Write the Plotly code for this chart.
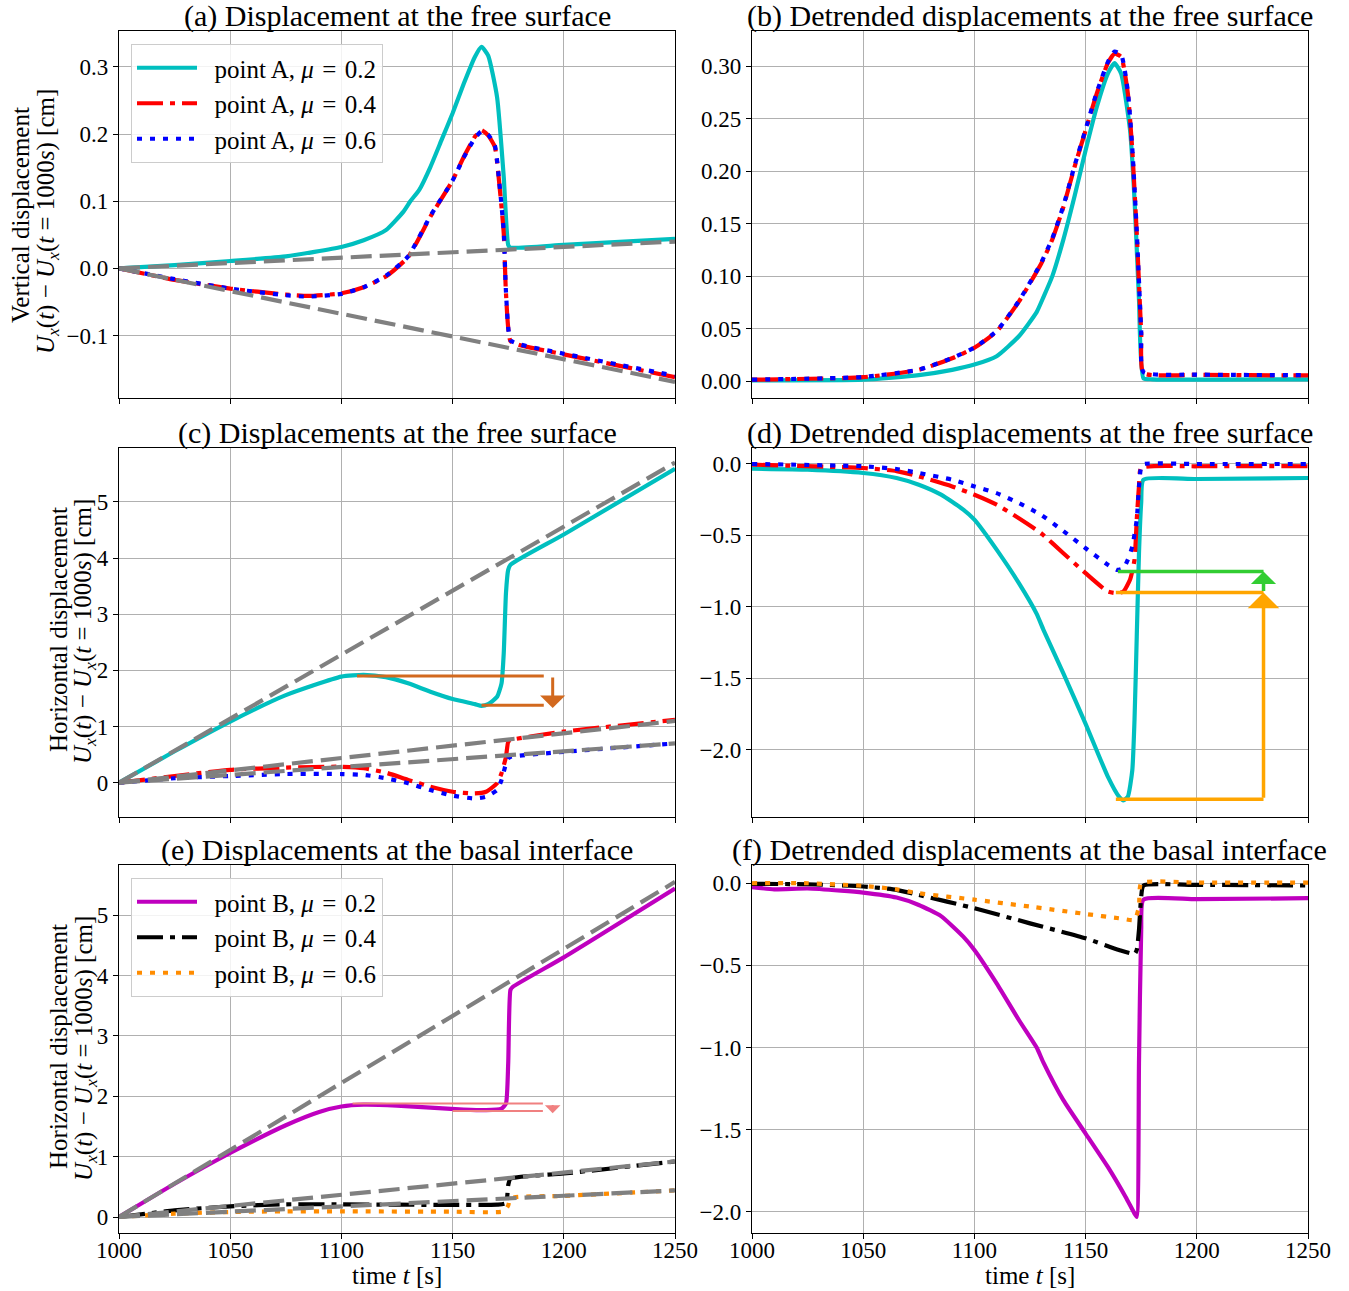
import plotly.graph_objects as go

# ---------------- data ----------------
# (a) vertical displacement, point A
tA_c = [1000,1025,1050,1075,1100,1110,1120,1128,1131,1135,1140,1145,1150,1155,1160,1163,1166,1170,1173,1175,1176,1200,1250]
a_mu02 = [0,0.005,0.011,0.018,0.032,0.042,0.057,0.085,0.100,0.117,0.151,0.191,0.231,0.275,0.315,0.330,0.317,0.255,0.136,0.035,0.031,0.035,0.044]
tA_rb = [1000,1025,1050,1075,1085,1100,1110,1120,1130,1140,1150,1155,1160,1163,1166,1169,1171,1173,1174,1176,1180,1200,1250]
a_mu04 = [0,-0.017,-0.030,-0.039,-0.041,-0.037,-0.028,-0.012,0.017,0.077,0.131,0.166,0.196,0.206,0.198,0.181,0.126,0.052,-0.037,-0.108,-0.114,-0.128,-0.162]
a_mu06 = [0,-0.016,-0.030,-0.040,-0.042,-0.038,-0.028,-0.011,0.018,0.078,0.131,0.165,0.194,0.204,0.199,0.183,0.128,0.055,-0.035,-0.107,-0.113,-0.127,-0.160]
a_trend_t = [1000,1250]
a_trend_02 = [0,0.040]
a_trend_46 = [0,-0.169]

# (b) detrended vertical, point A
tB_c = [1000,1050,1075,1090,1100,1110,1120,1128,1131,1135,1140,1145,1150,1155,1160,1163,1166,1170,1172,1174,1176,1180,1250]
b_mu02 = [0.001,0.0016,0.006,0.011,0.016,0.024,0.043,0.066,0.080,0.100,0.135,0.176,0.220,0.261,0.293,0.303,0.293,0.239,0.173,0.078,0.003,0.002,0.002]
tB_rb = [1000,1050,1075,1090,1100,1110,1120,1130,1135,1140,1145,1150,1155,1160,1163,1166,1169,1171,1173,1175,1176,1200,1250]
b_mu04 = [0.0016,0.004,0.011,0.022,0.032,0.0475,0.076,0.112,0.135,0.166,0.204,0.239,0.274,0.303,0.312,0.309,0.274,0.220,0.141,0.046,0.008,0.0063,0.0057]
b_mu06 = [0.0017,0.0042,0.0112,0.0222,0.0322,0.048,0.0765,0.113,0.136,0.167,0.205,0.240,0.275,0.304,0.314,0.311,0.276,0.222,0.143,0.048,0.009,0.0065,0.006]

# (c) horizontal displacement, point A
tC_c = [1000,1025,1050,1075,1100,1110,1120,1130,1140,1150,1160,1163,1166,1170,1172,1173,1174,1175,1176,1200,1250]
c_mu02 = [0,0.56,1.09,1.56,1.89,1.92,1.88,1.77,1.62,1.49,1.40,1.37,1.40,1.53,1.77,2.31,3.38,3.79,3.88,4.42,5.59]
tC_rb = [1000,1025,1050,1075,1100,1110,1120,1130,1140,1150,1160,1165,1170,1172,1174,1175,1176,1200,1250]
c_mu04 = [0,0.12,0.23,0.27,0.285,0.26,0.18,0.05,-0.07,-0.16,-0.19,-0.16,-0.01,0.17,0.46,0.73,0.76,0.91,1.12]
c_mu06 = [0,0.08,0.12,0.155,0.155,0.14,0.08,-0.01,-0.13,-0.23,-0.28,-0.25,-0.13,0.05,0.34,0.43,0.46,0.55,0.70]
c_trend_t = [1000,1250]
c_trend_02 = [0,5.70]
c_trend_04 = [0,1.10]
c_trend_06 = [0,0.70]
c_mark_hi_t = [1107,1191]
c_mark_hi_y = [1.90,1.90]
c_mark_lo_t = [1163,1191]
c_mark_lo_y = [1.38,1.38]
c_arrow = dict(t=1195, y_from=1.90, y_to=1.33)

# (d) detrended horizontal, point A
tD_c = [1000,1025,1050,1065,1075,1085,1095,1100,1110,1120,1128,1131,1140,1150,1160,1165,1167,1169,1171,1172,1173,1174,1175,1176,1200,1250]
d_mu02 = [-0.033,-0.04,-0.063,-0.098,-0.145,-0.215,-0.32,-0.39,-0.60,-0.835,-1.05,-1.16,-1.467,-1.82,-2.19,-2.33,-2.356,-2.33,-2.145,-1.79,-1.21,-0.625,-0.27,-0.11,-0.105,-0.098]
tD_r = [1000,1050,1065,1075,1090,1100,1110,1120,1130,1140,1150,1160,1164,1167,1170,1172,1173,1174,1175,1200,1250]
d_mu04 = [-0.005,-0.028,-0.05,-0.087,-0.157,-0.215,-0.285,-0.38,-0.485,-0.625,-0.765,-0.894,-0.905,-0.894,-0.81,-0.67,-0.39,-0.157,-0.028,-0.016,-0.016]
tD_b = [1000,1050,1065,1075,1090,1100,1110,1120,1130,1140,1150,1160,1164,1167,1169,1171,1173,1174,1175,1176,1200,1250]
d_mu06 = [0,-0.016,-0.035,-0.063,-0.11,-0.157,-0.204,-0.274,-0.356,-0.47,-0.59,-0.706,-0.742,-0.73,-0.67,-0.578,-0.39,-0.157,-0.016,0,0,0]
d_green_t = [1164.5,1230]
d_green_y = [-0.753,-0.753]
d_orange_mid_t = [1163.6,1230]
d_orange_mid_y = [-0.90,-0.90]
d_orange_low_t = [1163.6,1230]
d_orange_low_y = [-2.348,-2.348]
d_green_arrow = dict(t=1230, y_from=-0.90, y_to=-0.753)
d_orange_arrow = dict(t=1230, y_from=-2.348, y_to=-0.90)

# (e) horizontal displacement, point B
tE_m = [1000,1025,1050,1075,1090,1100,1110,1125,1140,1155,1165,1172,1174,1175,1176,1177,1200,1250]
e_mu02 = [0,0.55,1.06,1.52,1.74,1.83,1.86,1.845,1.81,1.78,1.77,1.795,1.88,2.54,3.76,3.81,4.30,5.44]
tE_k = [1000,1025,1050,1075,1100,1125,1150,1170,1174,1175,1176,1200,1250]
e_mu04 = [0,0.11,0.177,0.21,0.21,0.204,0.20,0.204,0.23,0.525,0.635,0.72,0.92]
tE_o = [1000,1025,1050,1075,1100,1150,1173,1175,1176,1200,1250]
e_mu06 = [0,0.055,0.083,0.094,0.094,0.088,0.094,0.19,0.31,0.35,0.44]
e_trend_t = [1000,1250]
e_trend_02 = [0,5.55]
e_trend_04 = [0,0.92]
e_trend_06 = [0,0.44]
e_mark_hi_t = [1105,1190.6]
e_mark_hi_y = [1.878,1.878]
e_mark_lo_t = [1150,1190.6]
e_mark_lo_y = [1.757,1.757]
e_arrow = dict(t=1195, y_from=1.878, y_to=1.72)

# (f) detrended horizontal, point B
tF_m = [1000,1010,1025,1040,1050,1065,1075,1085,1095,1100,1110,1120,1128,1131,1140,1150,1160,1168,1172,1173,1174,1175,1176,1200,1250]
f_mu02 = [-0.024,-0.037,-0.032,-0.045,-0.057,-0.087,-0.132,-0.2,-0.325,-0.406,-0.609,-0.832,-1.0,-1.09,-1.32,-1.523,-1.726,-1.909,-2.01,-2.03,-1.096,-0.284,-0.10,-0.097,-0.091]
tF_k = [1000,1025,1050,1065,1075,1100,1125,1150,1165,1172,1173,1174,1175,1176,1200,1250]
f_mu04 = [-0.004,-0.006,-0.02,-0.04,-0.071,-0.152,-0.244,-0.335,-0.406,-0.43,-0.406,-0.284,-0.081,-0.014,-0.01,-0.014]
tF_o = [1000,1025,1050,1065,1075,1100,1125,1150,1165,1172,1174,1175,1200,1250]
f_mu06 = [0,0,-0.016,-0.037,-0.061,-0.10,-0.142,-0.187,-0.213,-0.223,-0.142,0,0.004,0.004]

# ticks
x_ticks = [1000,1050,1100,1150,1200,1250]
a_yticks = [0.3,0.2,0.1,0.0,-0.1]
a_ytext = ["0.3","0.2","0.1","0.0","\u22120.1"]
b_yticks = [0.30,0.25,0.20,0.15,0.10,0.05,0.00]
b_ytext = ["0.30","0.25","0.20","0.15","0.10","0.05","0.00"]
ce_yticks = [5,4,3,2,1,0]
ce_ytext = ["5","4","3","2","1","0"]
df_yticks = [0.0,-0.5,-1.0,-1.5,-2.0]
df_ytext = ["0.0","\u22120.5","\u22121.0","\u22121.5","\u22122.0"]

titles = ["(a) Displacement at the free surface",
          "(b) Detrended displacements at the free surface",
          "(c) Displacements at the free surface",
          "(d) Detrended displacements at the free surface",
          "(e) Displacements at the basal interface",
          "(f) Detrended displacements at the basal interface"]

# ---------------- styling ----------------
W, H = 1349, 1291
OFF = 0  # body margin removed via post_script
FONT = "Liberation Serif, DejaVu Serif, serif"
CYAN = "#00BFBF"; RED = "#FF0000"; BLUE = "#0000FF"
MAG = "#BF00BF"; BLACK = "#000000"; ORANGE = "#FF8C00"; GRAY = "#808080"
LW = 4.2
DASHDOT = "26px,7px,5px,7px"
DOT = "5px,8px"
DASH = "21px,8px"

def px(xp):
    return (xp - OFF) / W

def py(yp):
    return 1 - (yp - OFF) / H

xdom_l = [px(119), px(675)]
xdom_r = [px(752), px(1308)]
ydoms = [[py(398), py(31)], [py(817), py(448)], [py(1233), py(865)]]

fig = go.Figure()

def add(ax, t, y, color, dash="solid", name=None, legend=None, width=LW, smooth=True):
    line = dict(color=color, width=width, dash=dash)
    if smooth:
        line.update(shape="spline", smoothing=0.5)
    fig.add_trace(go.Scatter(
        x=t, y=y, mode="lines", xaxis="x" + ("" if ax == 1 else str(ax)),
        yaxis="y" + ("" if ax == 1 else str(ax)),
        line=line, name=name, showlegend=name is not None,
        legend=legend if legend else "legend", hoverinfo="skip"))

mu = lambda p, v: f"\u2002point {p}, <i>\u03bc</i>\u2004=\u2004{v}"

# (a)
add(1, tA_c, a_mu02, CYAN, "solid", mu("A", "0.2"))
add(1, tA_rb, a_mu04, RED, DASHDOT, mu("A", "0.4"))
add(1, tA_rb, a_mu06, BLUE, DOT, mu("A", "0.6"))
add(1, a_trend_t, a_trend_02, GRAY, DASH, smooth=False)
add(1, a_trend_t, a_trend_46, GRAY, DASH, smooth=False)
# (b)
add(2, tB_c, b_mu02, CYAN)
add(2, tB_rb, b_mu04, RED, DASHDOT)
add(2, tB_rb, b_mu06, BLUE, DOT)
# (c)
add(3, tC_c, c_mu02, CYAN)
add(3, tC_rb, c_mu04, RED, DASHDOT)
add(3, tC_rb, c_mu06, BLUE, DOT)
add(3, c_trend_t, c_trend_02, GRAY, DASH, smooth=False)
add(3, c_trend_t, c_trend_04, GRAY, DASH, smooth=False)
add(3, c_trend_t, c_trend_06, GRAY, DASH, smooth=False)
add(3, c_mark_hi_t, c_mark_hi_y, "#D2691E", width=3, smooth=False)
add(3, c_mark_lo_t, c_mark_lo_y, "#D2691E", width=3, smooth=False)
# (d)
add(4, tD_c, d_mu02, CYAN)
add(4, tD_r, d_mu04, RED, DASHDOT)
add(4, tD_b, d_mu06, BLUE, DOT)
add(4, d_green_t, d_green_y, "#32CD32", width=3.5, smooth=False)
add(4, d_orange_mid_t, d_orange_mid_y, "#FFA500", width=3.5, smooth=False)
add(4, d_orange_low_t, d_orange_low_y, "#FFA500", width=3.5, smooth=False)
# (e)
add(5, tE_m, e_mu02, MAG, "solid", mu("B", "0.2"), "legend2")
add(5, tE_k, e_mu04, BLACK, DASHDOT, mu("B", "0.4"), "legend2")
add(5, tE_o, e_mu06, ORANGE, DOT, mu("B", "0.6"), "legend2")
add(5, e_trend_t, e_trend_02, GRAY, DASH, smooth=False)
add(5, e_trend_t, e_trend_04, GRAY, DASH, smooth=False)
add(5, e_trend_t, e_trend_06, GRAY, DASH, smooth=False)
add(5, e_mark_hi_t, e_mark_hi_y, "#F08080", width=2, smooth=False)
add(5, e_mark_lo_t, e_mark_lo_y, "#F08080", width=2, smooth=False)
# (f)
add(6, tF_m, f_mu02, MAG)
add(6, tF_k, f_mu04, BLACK, DASHDOT)
add(6, tF_o, f_mu06, ORANGE, DOT)

ranges = [[-0.193, 0.3536], [-0.0158, 0.3336], [-0.61, 5.96], [-2.473, 0.112], [-0.265, 5.83], [-2.128, 0.111]]
ytk = [(a_yticks, a_ytext), (b_yticks, b_ytext), (ce_yticks, ce_ytext), (df_yticks, df_ytext), (ce_yticks, ce_ytext), (df_yticks, df_ytext)]

layout = dict(width=W, height=H, margin=dict(l=0, r=0, t=0, b=0, autoexpand=False),
              template="none",
              paper_bgcolor="white", plot_bgcolor="white",
              font=dict(family=FONT, size=22, color="black"))
annotations = []
for i in range(6):
    k = i + 1
    sx = "" if k == 1 else str(k)
    row, col = i // 2, i % 2
    xd = xdom_l if col == 0 else xdom_r
    yd = ydoms[row]
    axcommon = dict(showgrid=True, gridcolor="#b0b0b0", gridwidth=1.1, zeroline=False,
                    showline=True, linecolor="black", linewidth=1.2, mirror=True,
                    ticks="outside", ticklen=5, tickwidth=1.1, tickcolor="black",
                    automargin=False,
                    tickfont=dict(family=FONT, size=23, color="black"))
    layout["xaxis" + sx] = dict(domain=xd, range=[1000, 1250], anchor="y" + sx,
                                tickvals=x_ticks, ticktext=[str(v) for v in x_ticks],
                                showticklabels=(row == 2), ticklabelstandoff=-9, **axcommon)
    layout["yaxis" + sx] = dict(domain=yd, range=ranges[i], anchor="x" + sx,
                                tickvals=ytk[i][0], ticktext=ytk[i][1], **axcommon)
    annotations.append(dict(text=titles[i], xref="paper", yref="paper",
                            x=(xd[0] + xd[1]) / 2, y=yd[1], xanchor="center", yanchor="bottom",
                            yshift=-4, showarrow=False,
                            font=dict(family=FONT, size=30)))
    if row == 2:
        annotations.append(dict(text="time <i>t</i> [s]", xref="paper", yref="paper",
                                x=(xd[0] + xd[1]) / 2, y=py(1275), xanchor="center", yanchor="middle",
                                showarrow=False, font=dict(family=FONT, size=25)))

ylab2 = "<i>U<sub>x</sub></i>(<i>t</i>) \u2212 <i>U<sub>x</sub></i>(<i>t</i> = 1000<i>s</i>) [cm]"
ylab_specs = [("Vertical displacement", 21, 215), (ylab2, 48, 222),
              ("Horizontal displacement", 58, 630), (ylab2, 85, 632),
              ("Horizontal displacement", 58, 1047), (ylab2, 85, 1049)]
for txt, xc, yc in ylab_specs:
    annotations.append(dict(text=txt, xref="paper", yref="paper",
                            x=px(xc), y=py(yc), xanchor="center", yanchor="middle",
                            textangle=-90, showarrow=False, font=dict(family=FONT, size=25)))

def arrow(ax, spec, color, width, size, head=1):
    sx = "" if ax == 1 else str(ax)
    annotations.append(dict(text="", x=spec["t"], y=spec["y_to"], ax=spec["t"], ay=spec["y_from"],
                            xref="x" + sx, yref="y" + sx, axref="x" + sx, ayref="y" + sx,
                            showarrow=True, arrowhead=head, arrowsize=size, arrowwidth=width,
                            arrowcolor=color))

arrow(3, c_arrow, "#D2691E", 3, 1.4)
arrow(4, d_green_arrow, "#32CD32", 3.5, 1.2)
arrow(4, d_orange_arrow, "#FFA500", 3.5, 1.5)
arrow(5, e_arrow, "#F08080", 2, 1.3)

layout["annotations"] = annotations
legcommon = dict(bgcolor="rgba(255,255,255,0.85)", bordercolor="#cccccc", borderwidth=1,
                 font=dict(family=FONT, size=25, color="black"), xanchor="left", yanchor="top",
                 itemwidth=60, tracegroupgap=0)
layout["legend"] = dict(x=px(131), y=py(44), **legcommon)
layout["legend2"] = dict(x=px(131), y=py(878), **legcommon)
fig.update_layout(**layout)

fig.write_html("out.html", config={"displayModeBar": False},
               post_script="document.body.style.margin='0px';")
